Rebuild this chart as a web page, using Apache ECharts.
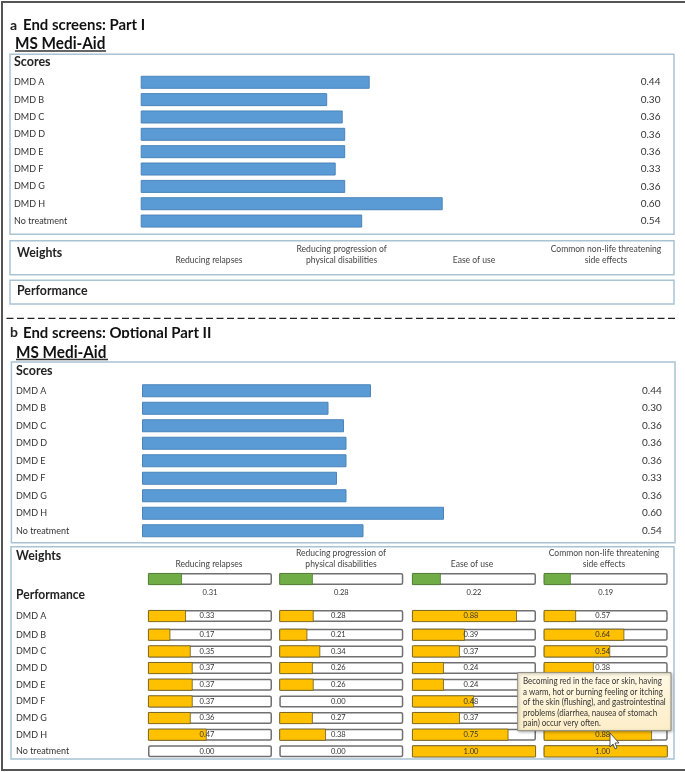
<!DOCTYPE html>
<html><head><meta charset="utf-8">
<style>html,body{margin:0;padding:0;background:#fff}#c{width:685px;height:772px}</style>
<script src="https://cdn.jsdelivr.net/npm/echarts@6/dist/echarts.min.js"></script>
</head><body><div id="c"></div>
<script>
const treatments = ['DMD A','DMD B','DMD C','DMD D','DMD E','DMD F','DMD G','DMD H','No treatment'];
const scoreText = ['0.44','0.30','0.36','0.36','0.36','0.33','0.36','0.60','0.54'];
const scoreBars = [0.458,0.373,0.404,0.409,0.409,0.390,0.409,0.604,0.443];
const attributes = [['Reducing relapses'],['Reducing progression of','physical disabilities'],['Ease of use'],['Common non-life threatening','side effects']];
const weightText = ['0.31','0.28','0.22','0.19'];
const weightBars = [0.274,0.270,0.232,0.218];
const perfText1 = ['0.33','0.17','0.35','0.37','0.37','0.37','0.36','0.47','0.00'];
const perfBars1  = [0.306,0.180,0.344,0.360,0.360,0.360,0.344,0.473,0];
const perfText2 = ['0.28','0.21','0.34','0.26','0.26','0.00','0.27','0.38','0.00'];
const perfBars2  = [0.277,0.226,0.330,0.270,0.277,0,0.270,0.376,0];
const perfText3 = ['0.88','0.39','0.37','0.24','0.24','0.48','0.37','0.75','1.00'];
const perfBars3  = [0.846,0.427,0.386,0.257,0.257,0.500,0.386,0.778,1];
const perfText4 = ['0.57','0.64','0.54','0.38','','','','0.88','1.00'];
const perfBars4  = [0.261,0.650,0.536,0.404,null,null,null,0.873,1];
const tooltipLines = ['Becoming red in the face or skin, having','a warm, hot or burning feeling or itching','of the skin (flushing), and gastrointestinal','problems (diarrhea, nausea of stomach','pain) occur very often.'];

const FONT = 'Lato';
const perfText = [perfText1,perfText2,perfText3,perfText4];
const perfBars = [perfBars1,perfBars2,perfBars3,perfBars4];
const colX = [148,279.3,412,543.7], colW = 124, colC = [209,341,472,604];

const grid=[], xAxis=[], yAxis=[], series=[], g=[];
function addX(){ xAxis.push({gridIndex:grid.length-1,type:'value',min:0,max:1,show:false}); }

function scorePanel(left,top,band,lift){
  grid.push({left,top,width:500,height:band*9});
  addX();
  const gi=grid.length-1;
  yAxis.push({gridIndex:gi,type:'category',inverse:true,data:treatments,axisLine:{show:false},axisTick:{show:false},
    axisLabel:{interval:0,align:'left',margin:left-14-(left>141?2:0),fontFamily:FONT,fontSize:9,color:'#333',padding:[0,0,lift,0]}});
  yAxis.push({gridIndex:gi,type:'category',position:'right',inverse:true,data:scoreText,axisLine:{show:false},axisTick:{show:false},
    axisLabel:{interval:0,align:'left',margin:0,fontFamily:FONT,fontSize:10,color:'#333',padding:[0,0,lift,0]}});
  series.push({type:'bar',xAxisIndex:xAxis.length-1,yAxisIndex:yAxis.length-2,data:scoreBars,barWidth:13,
    itemStyle:{color:'#5b9bd5',borderColor:'#4a84ba',borderWidth:1},silent:true,animation:false});
}
scorePanel(140.7,73.6,17.35,3);
scorePanel(142,382,17.5,4);

function miniGrid(col,top,height,names,vals,texts,fill,edge,labels,labelPos){
  grid.push({left:colX[col],top,width:colW,height});
  addX();
  yAxis.push({gridIndex:grid.length-1,type:'category',inverse:true,data:names,axisLine:{show:false},axisTick:{show:false},
    axisLabel:{show:!!labels,interval:0,align:'left',margin:colX[col]-16,fontFamily:FONT,fontSize:9,color:'#333'}});
  const xi=xAxis.length-1, yi=yAxis.length-1;
  series.push({type:'bar',xAxisIndex:xi,yAxisIndex:yi,data:names.map(()=>1),barWidth:12,barGap:'-100%',silent:true,animation:false,
    itemStyle:{color:'#fff',borderColor:'#707070',borderWidth:1.5,borderRadius:1.5},
    label:labelPos==='bottom'
      ?{show:true,position:'bottom',distance:4,formatter:p=>texts[p.dataIndex],fontFamily:FONT,fontSize:7.5,color:'#333'}
      :{show:true,position:'inside',offset:[-3,0],formatter:p=>texts[p.dataIndex],fontFamily:FONT,fontSize:7.5,color:'#333'}});
  series.push({type:'bar',xAxisIndex:xi,yAxisIndex:yi,barWidth:12,barGap:'-100%',silent:true,animation:false,
    data:vals.map(v=>v===0?{value:0,itemStyle:{borderWidth:0,opacity:0}}:v),
    itemStyle:{color:fill,borderColor:edge,borderWidth:0.8}});
}
attributes.forEach((a,c)=>{
  miniGrid(c,570.7,16.66,['Weight'],[weightBars[c]],[weightText[c]],'#70ad47','#4d7a30',false,'bottom');
  miniGrid(c,607.7,16.66,treatments.slice(0,1),perfBars[c].slice(0,1),perfText[c].slice(0,1),'#ffc000','#6b5a1e',c===0,'in');
  miniGrid(c,626.4,133.3,treatments.slice(1),perfBars[c].slice(1),perfText[c].slice(1),'#ffc000','#6b5a1e',c===0,'in');
});

const BOX='#a9c3d4';
function box(x,y,w,h){ g.push({type:'rect',shape:{x,y,width:w,height:h},style:{fill:null,stroke:BOX,lineWidth:1.5},z:1,silent:true}); }
function txt(x,y,text,size,bold,align,color,sx){ g.push({type:'text',x,y,scaleX:sx||1,z:5,silent:true,style:{text,fontFamily:FONT,fontSize:size,fontWeight:bold?'bold':'normal',fill:color||'#222',align:align||'left',verticalAlign:'middle'}}); }
function line(x1,y1,x2,y2,stroke,w,dash){ g.push({type:'line',shape:{x1,y1,x2,y2},z:4,silent:true,style:{stroke,lineWidth:w,lineDash:dash||null}}); }

// outer frame
g.push({type:'rect',shape:{x:2,y:2,width:684,height:768},style:{fill:null,stroke:'#555',lineWidth:2},z:1,silent:true});
// titles
txt(10,25,'a',14,true); txt(23,25,'End screens: Part I',15,true,'left','#111',0.995);
txt(15,44,'MS Medi-Aid',17,true,'left','#111',0.9); line(15,51,106,51,'#333',1.5);
line(6.5,318.3,677,318.3,'#222',1.2,[7,3.5]);
txt(10,332,'b',14,true); txt(23,333,'End screens: Optional Part II',15,true,'left','#111',0.995);
g.push({type:'rect',shape:{x:5,y:338,width:240,height:5},style:{fill:'#fff'},z:6,silent:true});
txt(16,353,'MS Medi-Aid',17,true,'left','#111',0.9); line(16,359.5,108,359.5,'#333',1.5);
// panel a
box(10,54.3,664,180); txt(14,62,'Scores',12.5,true);
box(10,240.7,664,34); txt(17,252,'Weights',14,true,'left','#222',0.88);
box(10,280.3,664,23.7); txt(17,291,'Performance',13,true,'left','#222',0.95);
attributes.forEach((a,c)=>{
  const cx=[209,341.6,474,606][c];
  if(a.length===2){ txt(cx,248.7,a[0],9.5,false,'center','#444',0.9); txt(cx,260,a[1],9.5,false,'center','#444',0.9); }
  else txt(cx,260,a[0],9.5,false,'center','#444',0.9);
});
// panel b
box(11.4,362,663.6,180.7); txt(16,370.5,'Scores',12.5,true);
box(11,546.7,663,212.3); txt(16,555,'Weights',14,true,'left','#222',0.88); txt(16,595,'Performance',13,true,'left','#222',0.93);
attributes.forEach((a,c)=>{
  const cx=colC[c];
  if(a.length===2){ txt(cx,552.7,a[0],9.5,false,'center','#444',0.9); txt(cx,564.3,a[1],9.5,false,'center','#444',0.9); }
  else txt(cx,564.3,a[0],9.5,false,'center','#444',0.9);
});
// hover note
g.push({type:'rect',shape:{x:517.7,y:672.7,width:153.3,height:58},z:20,silent:true,
  style:{fill:{type:'linear',x:0,y:0,x2:0,y2:1,colorStops:[{offset:0,color:'#fff8e4'},{offset:1,color:'#fdeec9'}]},stroke:'#8a8a80',lineWidth:1,shadowBlur:3,shadowColor:'rgba(0,0,0,.3)',shadowOffsetX:1,shadowOffsetY:1}});
tooltipLines.forEach((t,i)=>g.push({type:'text',x:523,y:681+i*10.6,scaleX:0.885,z:21,silent:true,style:{text:t,fontFamily:FONT,fontSize:9,fill:'#333',verticalAlign:'middle'}}));
// pointer
g.push({type:'polygon',z:22,silent:true,shape:{points:[[610,733],[610,747],[613,744],[615,749],[617,748],[615,743],[619,743]]},style:{fill:'#fff',stroke:'#333',lineWidth:0.8}});

const chart=echarts.init(document.getElementById('c'),null,{renderer:'canvas'});
chart.setOption({animation:false,grid,xAxis,yAxis,series,graphic:{elements:g}});
</script></body></html>
